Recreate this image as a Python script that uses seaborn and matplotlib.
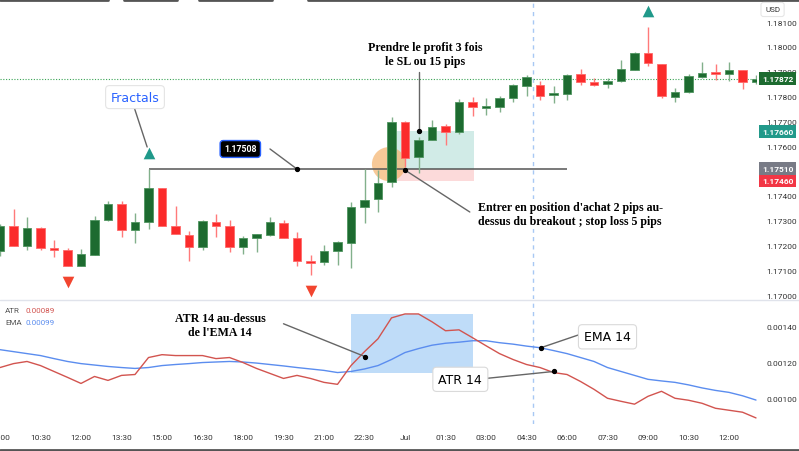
import numpy as np
import pandas as pd
import seaborn as sns
import matplotlib.pyplot as plt
from matplotlib.patches import Rectangle, Ellipse
from matplotlib.lines import Line2D

# EUR/USD, bougies de 30 min (30 juin 09:00 -> 1 juil 13:00)
opens = [1.17178, 1.17279, 1.17198, 1.17271, 1.17190, 1.17182, 1.17117, 1.17162, 1.17303, 1.17367,
         1.17263, 1.17295, 1.17432, 1.17279, 1.17242, 1.17194, 1.17295, 1.17279, 1.17194, 1.17230,
         1.17242, 1.17291, 1.17230, 1.17138, 1.17134, 1.17178, 1.17210, 1.17355, 1.17387, 1.17456,
         1.17698, 1.17557, 1.17625, 1.17682, 1.17657, 1.17778, 1.17756, 1.17758, 1.17794, 1.17843,
         1.17847, 1.17805, 1.17811, 1.17891, 1.17859, 1.17851, 1.17863, 1.17907, 1.17976, 1.17931,
         1.17799, 1.17819, 1.17879, 1.17897, 1.17891, 1.17907, 1.17859]
highs = [1.17287, 1.17347, 1.17315, 1.17275, 1.17222, 1.17190, 1.17186, 1.17319, 1.17379, 1.17379,
         1.17331, 1.17508, 1.17432, 1.17359, 1.17258, 1.17303, 1.17327, 1.17303, 1.17238, 1.17246,
         1.17315, 1.17303, 1.17254, 1.17162, 1.17202, 1.17218, 1.17375, 1.17508, 1.17504, 1.17718,
         1.17702, 1.17637, 1.17706, 1.17690, 1.17790, 1.17799, 1.17794, 1.17803, 1.17851, 1.17887,
         1.17863, 1.17843, 1.17891, 1.17911, 1.17875, 1.17875, 1.17948, 1.17980, 1.18081, 1.17931,
         1.17835, 1.17891, 1.17940, 1.17931, 1.17940, 1.17907, 1.17887]
lows = [1.17158, 1.17198, 1.17182, 1.17182, 1.17154, 1.17117, 1.17117, 1.17162, 1.17299, 1.17234,
        1.17210, 1.17267, 1.17279, 1.17246, 1.17138, 1.17182, 1.17234, 1.17174, 1.17166, 1.17174,
        1.17238, 1.17230, 1.17117, 1.17081, 1.17121, 1.17121, 1.17109, 1.17291, 1.17335, 1.17436,
        1.17516, 1.17492, 1.17625, 1.17605, 1.17649, 1.17722, 1.17726, 1.17738, 1.17778, 1.17803,
        1.17786, 1.17774, 1.17786, 1.17847, 1.17843, 1.17835, 1.17859, 1.17907, 1.17923, 1.17794,
        1.17778, 1.17815, 1.17875, 1.17867, 1.17863, 1.17831, 1.17851]
closes = [1.17279, 1.17198, 1.17271, 1.17190, 1.17182, 1.17117, 1.17166, 1.17303, 1.17367, 1.17263,
          1.17295, 1.17432, 1.17279, 1.17246, 1.17194, 1.17299, 1.17279, 1.17194, 1.17230, 1.17246,
          1.17295, 1.17230, 1.17138, 1.17130, 1.17178, 1.17214, 1.17355, 1.17383, 1.17452, 1.17698,
          1.17553, 1.17625, 1.17678, 1.17657, 1.17778, 1.17758, 1.17758, 1.17794, 1.17847, 1.17879,
          1.17803, 1.17813, 1.17887, 1.17859, 1.17847, 1.17863, 1.17911, 1.17976, 1.17936, 1.17803,
          1.17819, 1.17883, 1.17895, 1.17893, 1.17907, 1.17859, 1.17872]

atr_vals = [0.001172, 0.001194, 0.001206, 0.001183, 0.001150, 0.001117, 0.001083, 0.001122, 0.001100, 0.001128,
            0.001133, 0.001228, 0.001244, 0.001239, 0.001239, 0.001239, 0.001222, 0.001228, 0.001200, 0.001167,
            0.001139, 0.001111, 0.001128, 0.001111, 0.001089, 0.001078, 0.001183, 0.001261, 0.001333, 0.001450,
            0.001472, 0.001472, 0.001428, 0.001378, 0.001383, 0.001339, 0.001294, 0.001250, 0.001217, 0.001189,
            0.001172, 0.001144, 0.001133, 0.001094, 0.001050, 0.001000, 0.000983, 0.000967, 0.001011, 0.001039,
            0.001000, 0.000989, 0.000972, 0.000944, 0.000933, 0.000922, 0.000890]
ema_vals = [0.001272, 0.001261, 0.001250, 0.001239, 0.001222, 0.001206, 0.001194, 0.001186, 0.001178, 0.001172,
            0.001167, 0.001172, 0.001183, 0.001189, 0.001194, 0.001200, 0.001203, 0.001206, 0.001203, 0.001197,
            0.001189, 0.001181, 0.001172, 0.001164, 0.001156, 0.001144, 0.001150, 0.001164, 0.001183, 0.001217,
            0.001256, 0.001278, 0.001297, 0.001308, 0.001314, 0.001322, 0.001322, 0.001311, 0.001303, 0.001292,
            0.001283, 0.001267, 0.001250, 0.001228, 0.001206, 0.001172, 0.001150, 0.001128, 0.001106, 0.001097,
            0.001089, 0.001075, 0.001058, 0.001044, 0.001033, 0.001014, 0.000990]

tick_labels = ["09:00", "10:30", "12:00", "13:30", "15:00", "16:30", "18:00", "19:30", "21:00", "22:30",
               "Jul", "01:30", "03:00", "04:30", "06:00", "07:30", "09:00", "10:30", "12:00"]
# 1.17500 est caché derrière les étiquettes entrée / SL
price_ticks = [1.170, 1.171, 1.172, 1.173, 1.174, 1.176, 1.177, 1.178, 1.179, 1.180, 1.181]
atr_ticks = [0.0010, 0.0012, 0.0014]

fractal_up = [11, 48]
fractal_down = [5, 23]
breakout = 1.17508
entry = 1.17510
take_profit = 1.17660
stop_loss = 1.17460
last_price = 1.17872

GREEN, RED = "#1d6b30", "#fb2b2b"
ATR_C, EMA_C = "#d2544f", "#5b8def"

sns.set_theme(style="white")
plt.rcParams["font.family"] = ["DejaVu Sans"]

df = pd.DataFrame({"open": opens, "high": highs, "low": lows, "close": closes,
                   "atr": atr_vals, "ema": ema_vals})
df["i"] = np.arange(len(df))
up = (df["close"] >= df["open"]).values

fig = plt.figure(figsize=(7.99, 4.52), dpi=100)
ax = fig.add_axes([0, 152 / 452, 757 / 799, 300 / 452])
ax2 = fig.add_axes([0, 27 / 452, 757 / 799, 124 / 452])
xmax = 757 / 13.5

# --- bougies ---
ax.vlines(df["i"], df["low"], df["high"], colors=np.where(up, "#82b08b", "#ff7a7a"), lw=1, zorder=3)
body_low = np.minimum(df["open"], df["close"])
body_h = np.maximum((df["close"] - df["open"]).abs(), 0.00007)
ax.bar(df["i"], body_h, bottom=body_low, width=0.66, color=np.where(up, GREEN, RED),
       edgecolor=np.where(up, "#4f9560", "#ff6a6a"), linewidth=0.6, zorder=4)

ax.scatter(fractal_up, df["high"].values[fractal_up] + 0.00065, marker="^", s=70,
           color="#20998a", linewidths=0, zorder=5)
ax.scatter(fractal_down, df["low"].values[fractal_down] - 0.00065, marker="v", s=70,
           color="#f2452f", linewidths=0, zorder=5)

ax.axhline(last_price, color="#3aa455", lw=0.8, ls=(0, (1, 1.5)), zorder=2)
ax.hlines(breakout, 11, 42, color="#555555", lw=1.1, zorder=2)

# outil position longue
ax.add_patch(Rectangle((29.4, entry), 5.7, take_profit - entry, fc="#d1ebe7", ec="none", zorder=1))
ax.add_patch(Rectangle((29.4, stop_loss), 5.7, entry - stop_loss, fc="#fcdada", ec="none", zorder=1))
ax.add_patch(Ellipse((28.8, 1.17528), 2.5, 0.00137, fc="#f5b36c", alpha=0.7, ec="none", zorder=1.5))

line_kw = dict(color="#666666", lw=1, zorder=6)
dot_kw = dict(marker="o", ms=2.8, color="black", zorder=7, ls="none")
serif = dict(family=["Liberation Serif"], weight="bold", fontsize=8.6, color="black")

ax.plot([9.93, 10.9], [1.17758, 1.17597], **line_kw)
ax.text(10.0, 1.17798, "Fractals", ha="center", va="center", fontsize=9, color="#2962ff", zorder=8,
        bbox=dict(boxstyle="round,pad=0.4,rounding_size=0.3", fc="white", ec="#e4e4e4", lw=0.8))

ax.plot([20.0, 22.0], [1.17589, breakout], **line_kw)
ax.plot([22.0], [breakout], **dot_kw)
ax.text(17.8, 1.17589, "1.17508", ha="center", va="center", fontsize=6.3, color="white", zorder=8,
        family=["Roboto"], weight="bold",
        bbox=dict(boxstyle="round,pad=0.45,rounding_size=0.35", fc="black", ec="#2962ff", lw=1))

ax.plot([31.05, 31.05], [1.17899, take_profit], **line_kw)
ax.plot([31.05], [take_profit], **dot_kw)
ax.text(31.5, 1.17972, "Prendre le profit 3 fois\nle SL ou 15 pips", ha="center", va="center",
        linespacing=1.15, zorder=8, bbox=dict(fc="white", ec="none", pad=1), **serif)

ax.plot([30.0, 34.8], [1.17504, 1.17335], **line_kw)
ax.plot([30.0], [1.17504], **dot_kw)
ax.text(35.4, 1.17327, "Entrer en position d'achat 2 pips au-\ndessus du breakout ; stop loss 5 pips",
        ha="left", va="center", linespacing=1.15, zorder=8, bbox=dict(fc="white", ec="none", pad=2), **serif)

ax.axvline(39.5, color="#a8c8f4", lw=1, ls=(0, (3, 3)), zorder=1)

ax.set_xlim(0, xmax)
ax.set_ylim(1.169844, 1.181934)
ax.set_xticks([])
ax.yaxis.tick_right()
ax.set_yticks(price_ticks)
ax.set_yticklabels([f"{p:.5f}" for p in price_ticks])
ax.tick_params(axis="y", length=0, pad=6.5, labelsize=6, labelcolor="#333333")
for t in ax.get_yticklabels():
    t.set_family(["Roboto"])

tag = dict(transform=ax.get_yaxis_transform(), ha="left", va="center", fontsize=6, color="white",
           family=["Roboto"], weight="bold", zorder=10, clip_on=False)
for price, col in [(last_price, GREEN), (take_profit, "#22998a"), (entry, "#787b86"), (stop_loss, "#f23645")]:
    ax.text(1.0 + 5 / 757, price, f"{price:.5f}",
            bbox=dict(boxstyle="square,pad=0.35", fc=col, ec="none"), **tag)

# --- panneau ATR ---
ax2.add_patch(Rectangle((26, 0.001144), 9.04, 0.000328, fc="#bfdcf8", ec="none", zorder=1))
sns.lineplot(data=df, x="i", y="ema", ax=ax2, color=EMA_C, lw=1, zorder=3)
sns.lineplot(data=df, x="i", y="atr", ax=ax2, color=ATR_C, lw=1, zorder=3)
ax2.axvline(39.5, color="#a8c8f4", lw=1, ls=(0, (3, 3)), zorder=1)

ax2.plot([21.0, 27.04], [0.001417, 0.001233], **line_kw)
ax2.plot([27.04], [0.001233], **dot_kw)
ax2.text(16.3, 0.001411, "ATR 14 au-dessus\nde l'EMA 14", ha="center", va="center", linespacing=1.15,
         zorder=8, bbox=dict(fc="white", ec="none", pad=1), **serif)

ax2.plot([43.1, 40.07], [0.001361, 0.001283], **line_kw)
ax2.plot([40.07], [0.001283], **dot_kw)
ax2.text(45.0, 0.001344, "EMA 14", ha="center", va="center", fontsize=9, color="black", zorder=8,
         bbox=dict(boxstyle="round,pad=0.45,rounding_size=0.3", fc="white", ec="#dadada", lw=0.8))

ax2.plot([36.0, 41.0], [0.001111, 0.001150], **line_kw)
ax2.plot([41.0], [0.001150], **dot_kw)
ax2.text(34.1, 0.001106, "ATR 14", ha="center", va="center", fontsize=9, color="black", zorder=8,
         bbox=dict(boxstyle="round,pad=0.45,rounding_size=0.3", fc="white", ec="#dadada", lw=0.8))

leg = dict(transform=ax2.transAxes, fontsize=5.8, va="center", family=["Roboto"])
ax2.text(0.0066, 0.919, "ATR", color="#555555", **leg)
ax2.text(0.034, 0.919, f"{atr_vals[-1]:.5f}", color=ATR_C, **leg)
ax2.text(0.0066, 0.823, "EMA", color="#555555", **leg)
ax2.text(0.034, 0.823, f"{ema_vals[-1]:.5f}", color=EMA_C, **leg)

ax2.set_xlim(0, xmax)
ax2.set_ylim(0.000856, 0.00155)
ax2.set_xlabel("")
ax2.set_ylabel("")
ax2.yaxis.tick_right()
ax2.set_yticks(atr_ticks)
ax2.set_yticklabels([f"{v:.5f}" for v in atr_ticks])
ax2.set_xticks(range(0, 3 * len(tick_labels), 3))
ax2.set_xticklabels(tick_labels)
ax2.tick_params(axis="y", length=0, pad=6.5, labelsize=6, labelcolor="#333333")
ax2.tick_params(axis="x", length=0, pad=7, labelsize=6, labelcolor="#333333")
for t in ax2.get_yticklabels() + ax2.get_xticklabels():
    t.set_family(["Roboto"])

for a in (ax, ax2):
    sns.despine(ax=a, left=True, bottom=True, right=True, top=True)
    a.grid(False)

fig.text(765 / 799, 1 - 10.5 / 452, "USD", fontsize=5.8, color="#333333", va="center", family=["Roboto"],
         bbox=dict(boxstyle="round,pad=0.5,rounding_size=0.3", fc="white", ec="#e6e6e6", lw=0.8))
fig.add_artist(Line2D([0, 1], [151.5 / 452] * 2, color="#e0e3eb", lw=1))
for x0, x1 in [(0, 108), (124, 177), (199, 272), (308, 799)]:
    fig.add_artist(Line2D([x0 / 799, x1 / 799], [1 - 1 / 452] * 2, color="#555555", lw=2))
fig.add_artist(Line2D([0, 1], [1.5 / 452] * 2, color="#555555", lw=2))

fig.savefig("out.png", dpi=100)
